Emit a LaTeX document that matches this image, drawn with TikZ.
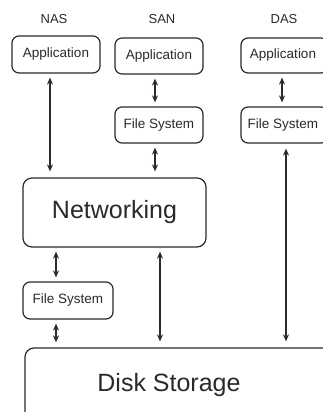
\documentclass[tikz,border=0pt]{standalone}
\usepackage{fontspec}
\setmainfont{Liberation Sans}
\usetikzlibrary{arrows.meta}
\definecolor{ink}{HTML}{2A2A2A}
\begin{document}
\begin{tikzpicture}[x=1pt,y=-1pt,
  smallbox/.style={draw=ink,line width=1.2pt,rounded corners=7pt,text=ink,inner sep=0pt,
    font=\fontsize{13.5}{15}\selectfont},
  bigbox/.style={draw=ink,line width=1.2pt,rounded corners=9pt,text=ink,inner sep=0pt,
    font=\fontsize{25}{29}\selectfont},
  lbl/.style={text=ink,font=\fontsize{13}{15}\selectfont},
  conn/.style={draw=ink,line width=1.1pt,{Stealth[length=7pt,width=6pt]}-{Stealth[length=7pt,width=6pt]}}]
\useasboundingbox[fill=white] (0,0) rectangle (322,412);
% titles
\node[lbl] (tNAS) at (54,19) {NAS};
\node[lbl] (tSAN) at (162,19) {SAN};
\node[lbl] (tDAS) at (284,19) {DAS};
% boxes
\node[smallbox,minimum width=88pt,minimum height=37pt] (appNAS) at (56,54.5) {Application};
\node[smallbox,minimum width=88pt,minimum height=36pt] (appSAN) at (159,56) {Application};
\node[smallbox,minimum width=87pt,minimum height=35pt] (appDAS) at (284.5,55.5) {\hspace*{-3pt}Application};
\node[smallbox,minimum width=88pt,minimum height=36pt] (fsSAN) at (159,125) {File System};
\node[smallbox,minimum width=87pt,minimum height=36pt] (fsDAS) at (284.5,125) {\hspace*{-3pt}File System};
\node[bigbox,minimum width=183pt,minimum height=69pt] (net) at (114.5,212.5) {Networking};
\node[smallbox,minimum width=90pt,minimum height=37pt] (fsNAS) at (68,300.5) {File System};
\node[bigbox,minimum width=310pt,minimum height=82pt] (disk) at (180,389) {};
\node[text=ink,font=\fontsize{25}{29}\selectfont] (diskT) at (169,385) {Disk Storage};
% connector columns
\coordinate (cNAS) at (50,0);
\coordinate (cSAN) at (155,0);
\coordinate (cDAS1) at (282,0);
\coordinate (cDAS2) at (286,0);
\coordinate (cNET) at (160,0);
\coordinate (cLOW) at (56,0);
% connectors
\draw[conn,shorten <=4pt,shorten >=6pt] (appNAS.south -| cNAS) -- (net.north -| cNAS);
\draw[conn,shorten <=4pt,shorten >=4pt] (appSAN.south -| cSAN) -- (fsSAN.north -| cSAN);
\draw[conn,shorten <=4pt,shorten >=6pt] (fsSAN.south -| cSAN) -- (net.north -| cSAN);
\draw[conn,shorten <=4pt,shorten >=4pt] (appDAS.south -| cDAS1) -- (fsDAS.north -| cDAS1);
\draw[conn,shorten <=5pt,shorten >=6pt] (fsDAS.south -| cDAS2) -- (disk.north -| cDAS2);
\draw[conn,shorten <=4pt,shorten >=6pt] (net.south -| cNET) -- (disk.north -| cNET);
\draw[conn,shorten <=4pt,shorten >=4pt] (net.south -| cLOW) -- (fsNAS.north -| cLOW);
\draw[conn,shorten <=4pt,shorten >=5pt] (fsNAS.south -| cLOW) -- (disk.north -| cLOW);
\end{tikzpicture}
\end{document}
